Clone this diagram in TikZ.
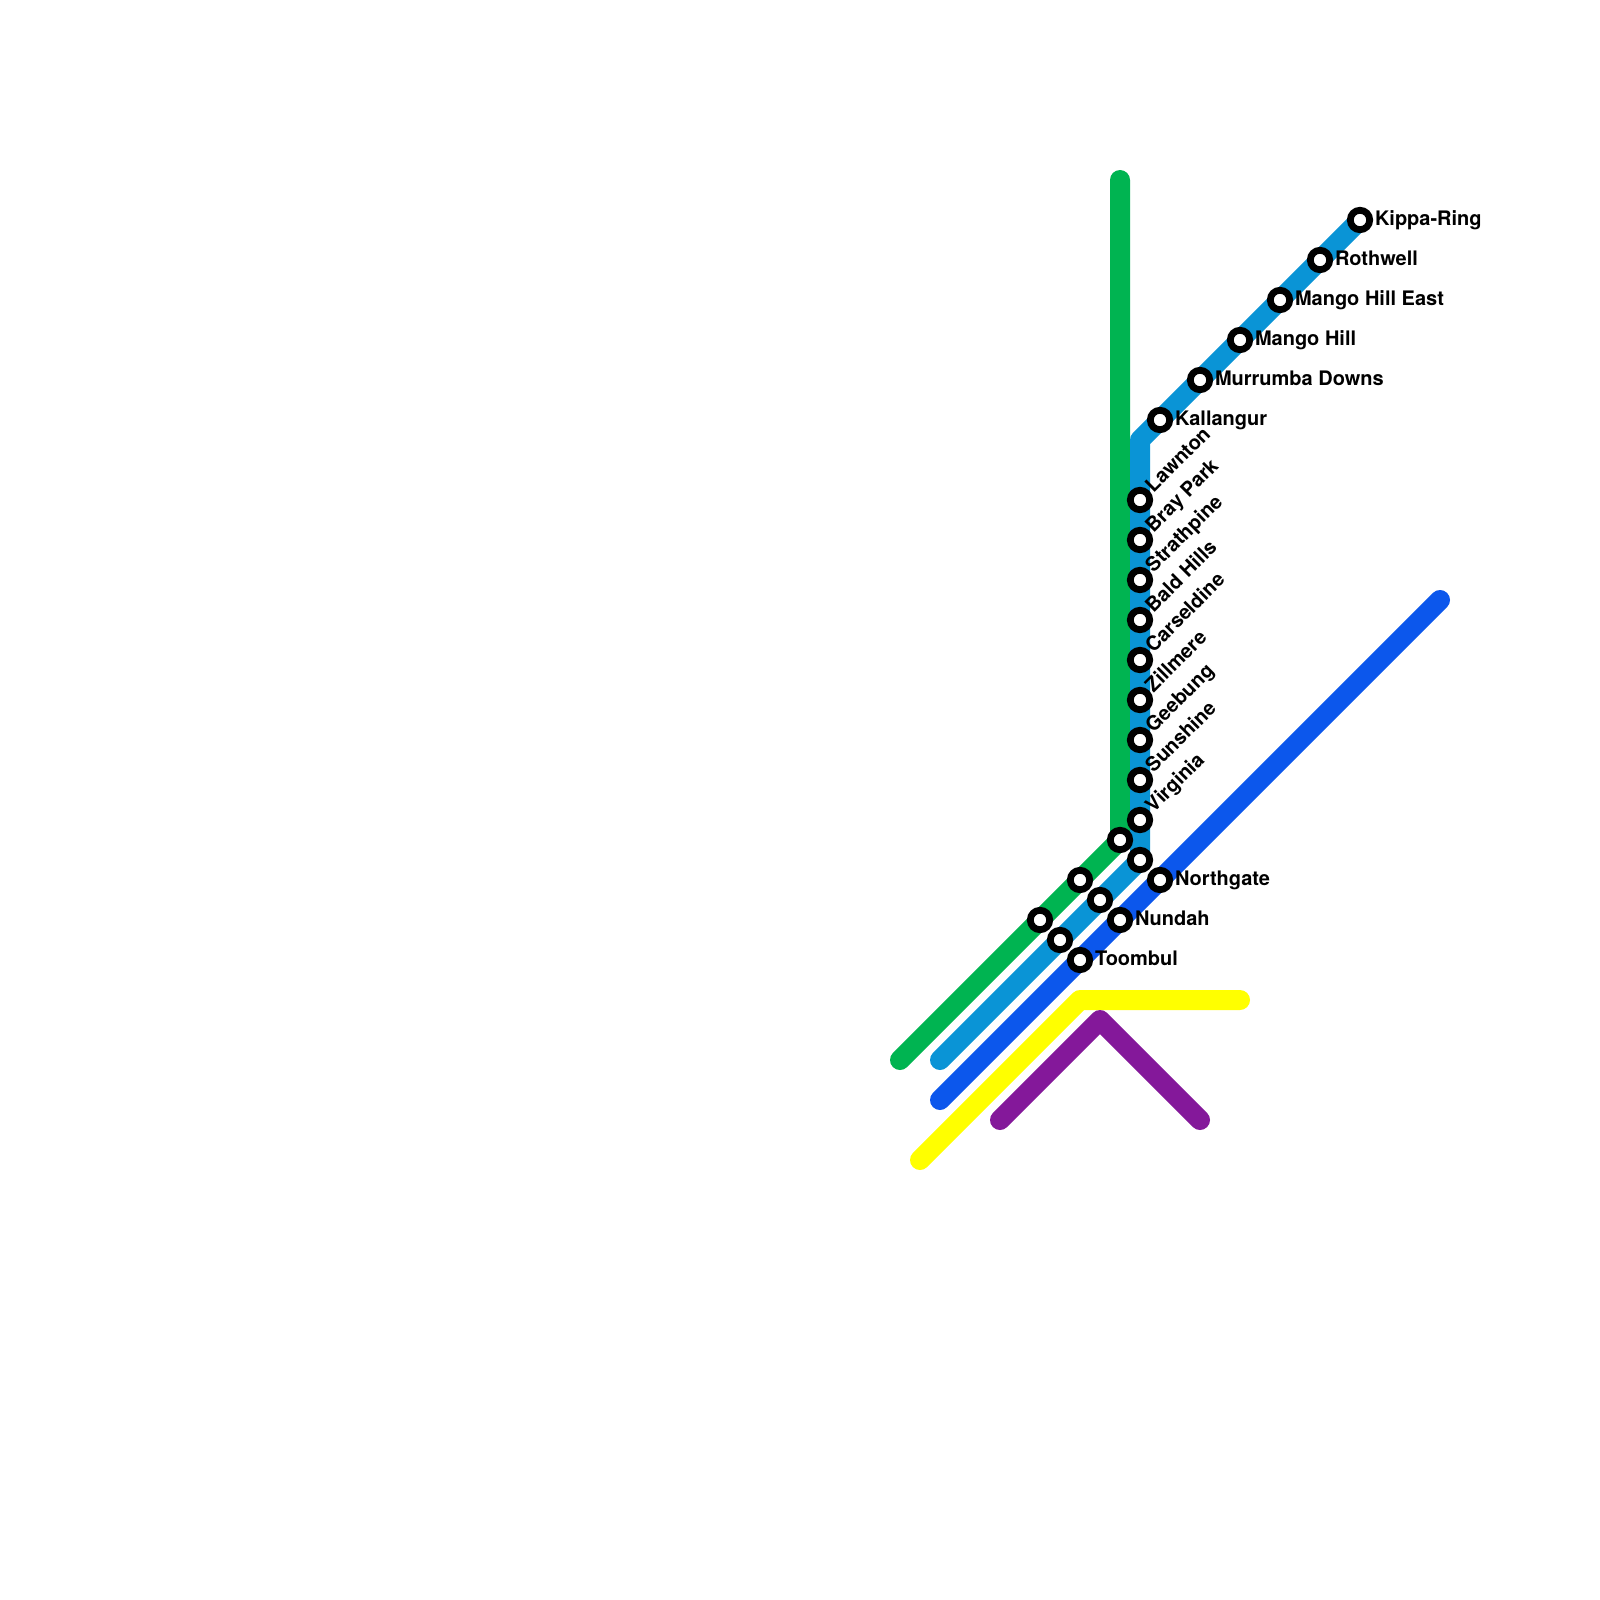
\documentclass[tikz,border=0pt]{standalone}
\usepackage{fontspec}
\setmainfont{TeX Gyre Heros}
\definecolor{cgreen}{HTML}{00B451}
\definecolor{clight}{HTML}{0A94D6}
\definecolor{cblue}{HTML}{0C57EC}
\definecolor{cyell}{HTML}{FFFF00}
\definecolor{cpurp}{HTML}{84189A}
\tikzset{
  route/.style={line width=10pt,line cap=round,line join=round},
  stn/.style={circle,draw=black,fill=white,line width=3.4pt,minimum size=9.7pt,inner sep=0pt,outer sep=0pt},
  lab/.style={anchor=base west,inner sep=0pt,outer sep=0pt,text=black,font=\fontsize{10}{12}\selectfont\bfseries},
  rlab/.style={lab,rotate=45}
}
\begin{document}
\begin{tikzpicture}[x=0.5pt,y=-0.5pt]
\useasboundingbox (0,0) rectangle (1600,1600);
\fill[white] (0,0) rectangle (1600,1600);
% free line ends and bends
\coordinate (gtop) at (1120,180);
\coordinate (gbend) at (1120,840);
\coordinate (gend) at (900,1060);
\coordinate (ltop) at (1360,220);
\coordinate (lbend) at (1140,440);
\coordinate (lbendb) at (1140,860);
\coordinate (lend) at (940,1060);
\coordinate (btop) at (1440,600);
\coordinate (bend) at (940,1100);
\coordinate (ya) at (920,1160);
\coordinate (yb) at (1080,1000);
\coordinate (yc) at (1240,1000);
\coordinate (pa) at (1000,1120);
\coordinate (pb) at (1100,1020);
\coordinate (pc) at (1200,1120);
% routes
\draw[route,cgreen] (gtop) -- (gbend) -- (gend);
\draw[route,clight] (ltop) -- (lbend) -- (lbendb) -- (lend);
\draw[route,cblue] (btop) -- (bend);
\draw[route,cyell] (ya) -- (yb) -- (yc);
\draw[route,cpurp] (pa) -- (pb) -- (pc);
% stations
\node[stn] (kippa) at (1360,220) {};
\node[stn] (rothwell) at (1320,260) {};
\node[stn] (mhe) at (1280,300) {};
\node[stn] (mh) at (1240,340) {};
\node[stn] (murr) at (1200,380) {};
\node[stn] (kall) at (1160,420) {};
\node[stn] (lawn) at (1140,500) {};
\node[stn] (bray) at (1140,540) {};
\node[stn] (stra) at (1140,580) {};
\node[stn] (bald) at (1140,620) {};
\node[stn] (cars) at (1140,660) {};
\node[stn] (zill) at (1140,700) {};
\node[stn] (geeb) at (1140,740) {};
\node[stn] (suns) at (1140,780) {};
\node[stn] (virg) at (1140,820) {};
\node[stn] (lb1) at (1140,860) {};
\node[stn] (lb2) at (1100,900) {};
\node[stn] (lb3) at (1060,940) {};
\node[stn] (gr1) at (1120,840) {};
\node[stn] (gr2) at (1080,880) {};
\node[stn] (gr3) at (1040,920) {};
\node[stn] (north) at (1160,880) {};
\node[stn] (nund) at (1120,920) {};
\node[stn] (toom) at (1080,960) {};
% horizontal labels
\node[lab] (tkippa) at ([shift={(15,5)}]kippa.center) {Kippa-Ring};
\node[lab] (trothwell) at ([shift={(15,5)}]rothwell.center) {Rothwell};
\node[lab] (tmhe) at ([shift={(15,5)}]mhe.center) {Mango Hill East};
\node[lab] (tmh) at ([shift={(15,5)}]mh.center) {Mango Hill};
\node[lab] (tmurr) at ([shift={(15,5)}]murr.center) {Murrumba Downs};
\node[lab] (tkall) at ([shift={(15,5)}]kall.center) {Kallangur};
\node[lab] (tnorth) at ([shift={(15,5)}]north.center) {Northgate};
\node[lab] (tnund) at ([shift={(15,5)}]nund.center) {Nundah};
\node[lab] (ttoom) at ([shift={(15,5)}]toom.center) {Toombul};
% rotated labels
\node[rlab] (tlawn) at ([shift={(13.6,-6.6)}]lawn.center) {Lawnton};
\node[rlab] (tbray) at ([shift={(13.6,-6.6)}]bray.center) {Bray Park};
\node[rlab] (tstra) at ([shift={(13.6,-6.6)}]stra.center) {Strathpine};
\node[rlab] (tbald) at ([shift={(13.6,-6.6)}]bald.center) {Bald Hills};
\node[rlab] (tcars) at ([shift={(13.6,-6.6)}]cars.center) {Carseldine};
\node[rlab] (tzill) at ([shift={(13.6,-6.6)}]zill.center) {Zillmere};
\node[rlab] (tgeeb) at ([shift={(13.6,-6.6)}]geeb.center) {Geebung};
\node[rlab] (tsuns) at ([shift={(13.6,-6.6)}]suns.center) {Sunshine};
\node[rlab] (tvirg) at ([shift={(13.6,-6.6)}]virg.center) {Virginia};
\end{tikzpicture}
\end{document}
